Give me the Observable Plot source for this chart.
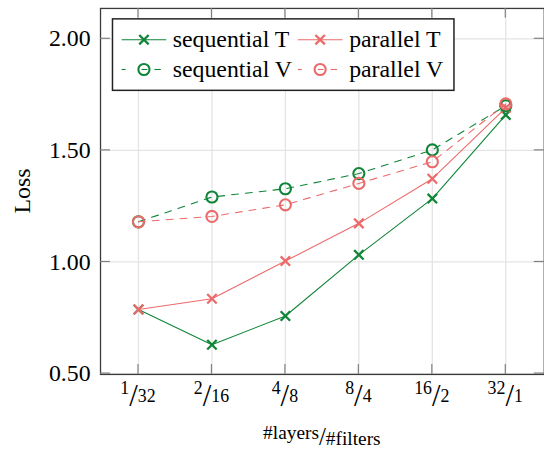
<!DOCTYPE html>
<html><head><meta charset="utf-8">
<script src="https://cdn.jsdelivr.net/npm/d3@7"></script>
<script src="https://cdn.jsdelivr.net/npm/@observablehq/plot@0.6"></script>
<style>
html,body{margin:0;padding:0;background:#fff;overflow:hidden;}
#chart{width:544px;height:455px;overflow:hidden;position:relative;}
#chart svg, #chart svg text{font-family:'Liberation Serif','Times New Roman',serif !important;}
</style></head><body><div id="chart"></div>
<script>
// ---- data ----
const xLabels = ["1/32", "2/16", "4/8", "8/4", "16/2", "32/1"];
const numerators = ["1", "2", "4", "8", "16", "32"];
const denominators = ["32", "16", "8", "4", "2", "1"];
const seqT = [0.787, 0.629, 0.758, 1.032, 1.284, 1.659];
const parT = [0.787, 0.835, 1.004, 1.173, 1.373, 1.690];
const seqV = [1.180, 1.291, 1.328, 1.396, 1.502, 1.700];
const parV = [1.180, 1.204, 1.256, 1.352, 1.449, 1.708];
const yTicks = [0.5, 1.0, 1.5, 2.0];
const seriesNames = ["sequential T", "parallel T", "sequential V", "parallel V"];
const yLabel = "Loss";
const xLabelTop = "#layers";
const xLabelBottom = "#filters";

(function () {
// ---- styles ----
const GREEN = "#0f8538", RED = "#ec6a6a";
const styles = [
  {color: GREEN, dash: null, symbol: "times"},
  {color: RED, dash: null, symbol: "times"},
  {color: GREEN, dash: "7,7", symbol: "circle"},
  {color: RED, dash: "7,7", symbol: "circle"}
];
const seriesValues = [seqT, parT, seqV, parV];
const tables = seriesValues.map((vals, s) => vals.map((v, i) => ({series: seriesNames[s], x: xLabels[i], y: v})));

const W = 548, H = 455, ML = 100.75, MR = 0.25, MT = 8, MB = 78.3;
const FONT = "'Liberation Serif', 'Times New Roman', serif";

const marks = [
  Plot.gridX({stroke: "#e4e4e4", strokeOpacity: 1, strokeWidth: 1.3}),
  Plot.gridY({ticks: yTicks, stroke: "#e4e4e4", strokeOpacity: 1, strokeWidth: 1.3})
];
tables.forEach((t, s) => {
  const st = styles[s];
  marks.push(Plot.line(t, {x: "x", y: "y", stroke: st.color, strokeWidth: 1.1, strokeDasharray: st.dash}));
  marks.push(Plot.dot(t, st.symbol === "times"
    ? {x: "x", y: "y", symbol: "times", r: 4.4, stroke: st.color, strokeWidth: 2.3, fill: "none"}
    : {x: "x", y: "y", symbol: "circle", r: 5.6, stroke: st.color, strokeWidth: 2.1, fill: "none"}));
});
marks.push(Plot.frame({stroke: "#3a3a3a", strokeWidth: 1.3}));
marks.push(Plot.axisY({ticks: yTicks, tickFormat: d3.format(".2f"), tickSize: 0, tickPadding: 10, label: null, fontSize: 24}));

const plot = Plot.plot({
  width: W, height: H, marginLeft: ML, marginRight: MR, marginTop: MT, marginBottom: MB,
  style: {fontFamily: FONT, fontSize: "24px", background: "#fff", color: "#000"},
  x: {type: "point", domain: xLabels, padding: 0.5, axis: null},
  y: {domain: [0.496, 2.136], axis: null},
  marks
});
document.getElementById("chart").appendChild(plot);

const svg = d3.select(plot);
const xs = plot.scale("x"), ys = plot.scale("y");
const pLeft = ML, pRight = W - MR, pTop = MT, pBottom = H - MB;
const TL = 10;

// inward ticks on all four sides
const tg = svg.append("g").attr("stroke", "#808080").attr("stroke-width", 1.2);
xLabels.forEach(c => {
  const x = xs.apply(c);
  tg.append("line").attr("x1", x).attr("x2", x).attr("y1", pBottom).attr("y2", pBottom - TL);
  tg.append("line").attr("x1", x).attr("x2", x).attr("y1", pTop).attr("y2", pTop + TL);
});
yTicks.forEach(v => {
  const y = ys.apply(v);
  tg.append("line").attr("x1", pLeft).attr("x2", pLeft + TL).attr("y1", y).attr("y2", y);
  tg.append("line").attr("x1", pRight).attr("x2", pRight - TL).attr("y1", y).attr("y2", y);
});

// x tick labels (fraction style)
const xl = svg.append("g").attr("font-family", FONT).attr("fill", "#000").attr("text-anchor", "middle");
xLabels.forEach((c, i) => {
  const t = xl.append("text").attr("x", xs.apply(c)).attr("y", 405);
  t.append("tspan").attr("font-size", 18).attr("dy", -8).text(numerators[i]);
  t.append("tspan").attr("font-size", 31).attr("dy", 12).text("/");
  t.append("tspan").attr("font-size", 18).attr("dy", -4).text(denominators[i]);
});

// x axis label
const cx = (pLeft + pRight) / 2;
const al = svg.append("text").attr("font-family", FONT).attr("text-anchor", "middle").attr("x", cx).attr("y", 448);
al.append("tspan").attr("font-size", 19.5).attr("dy", -6).text(xLabelTop);
al.append("tspan").attr("font-size", 25).attr("dy", 6).text("/");
al.append("tspan").attr("font-size", 19.5).attr("dy", 0).text(xLabelBottom);

// y axis label
svg.append("text").attr("font-family", FONT).attr("font-size", 24).attr("text-anchor", "middle")
  .attr("transform", `translate(30,${(pTop + pBottom) / 2}) rotate(-90)`).text(yLabel);

// legend
const lg = svg.append("g").attr("font-family", FONT).attr("text-anchor", "start");
lg.append("rect").attr("x", 113.3).attr("y", 19).attr("width", 344).attr("height", 72)
  .attr("fill", "#fff").attr("stroke", "#222").attr("stroke-width", 1.5);
const entries = [
  {s: 0, lx: 122.5, tx: 174, ry: 40},
  {s: 1, lx: 300, tx: 351.7, ry: 40},
  {s: 2, lx: 122.5, tx: 174, ry: 70},
  {s: 3, lx: 300, tx: 351.7, ry: 70}
];
const sym = d3.symbol();
entries.forEach(e => {
  const st = styles[e.s];
  const mx = e.lx + 22.5;
  if (st.dash) {
    [[0, 4], [20, 26], [33, 39.5]].forEach(([a, b]) =>
      lg.append("line").attr("x1", e.lx + a).attr("x2", e.lx + b).attr("y1", e.ry).attr("y2", e.ry)
        .attr("stroke", st.color).attr("stroke-width", 1.1));
    lg.append("circle").attr("cx", mx).attr("cy", e.ry).attr("r", 5.6)
      .attr("fill", "none").attr("stroke", st.color).attr("stroke-width", 2.1);
  } else {
    lg.append("line").attr("x1", e.lx).attr("x2", e.lx + 45).attr("y1", e.ry).attr("y2", e.ry)
      .attr("stroke", st.color).attr("stroke-width", 1.1);
    lg.append("path").attr("transform", `translate(${mx},${e.ry})`)
      .attr("d", sym.type(d3.symbolTimes).size(Math.PI * 4.4 * 4.4)())
      .attr("fill", "none").attr("stroke", st.color).attr("stroke-width", 2.3);
  }
  lg.append("text").attr("x", e.tx).attr("y", e.ry + 7.5).attr("font-size", 24).attr("fill", "#000")
    .attr("text-anchor", "start").text(seriesNames[e.s]);
});
})();
</script>
</body></html>
